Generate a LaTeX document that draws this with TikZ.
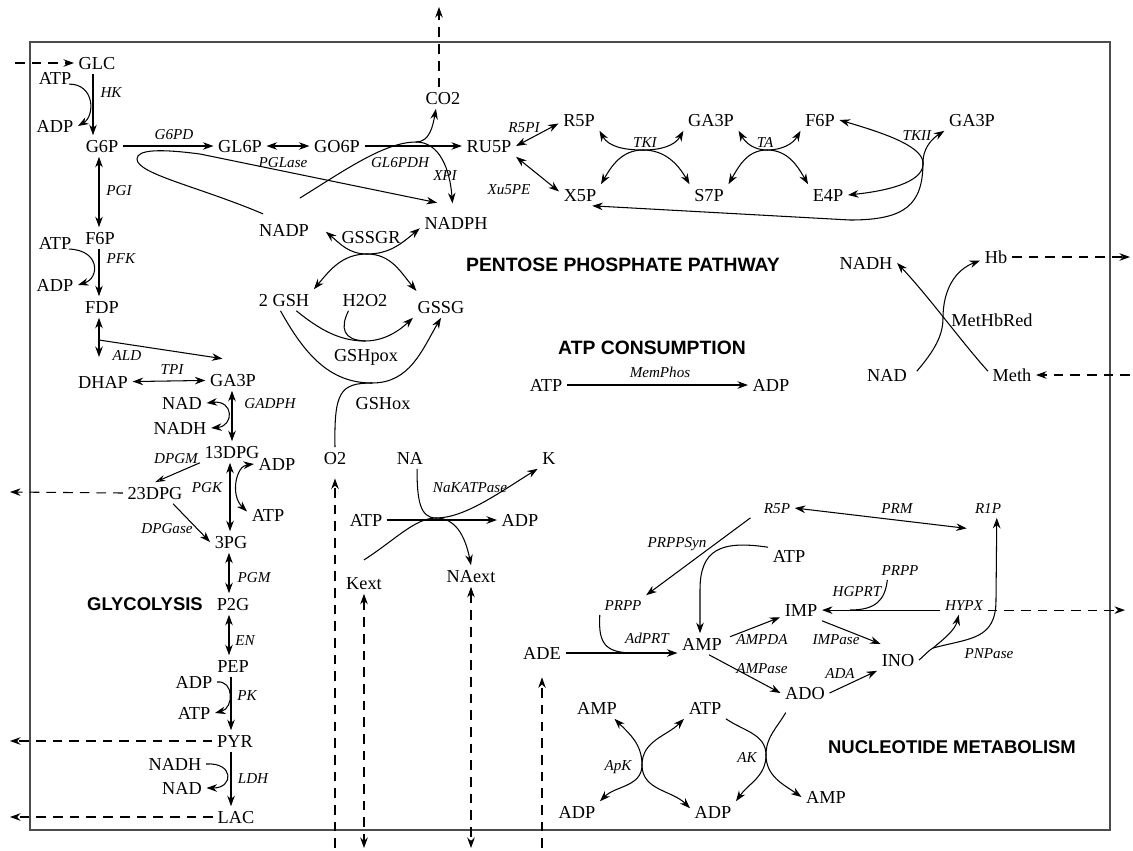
\documentclass[tikz,border=0pt]{standalone}
\usepackage{fontspec}
\setmainfont{Liberation Serif}
\setsansfont{Liberation Sans}
\usetikzlibrary{arrows.meta}
\begin{document}
\begin{tikzpicture}[x=0.02cm,y=-0.02cm,
  >={Stealth[length=6pt,width=4.3pt]},
  met/.style={inner sep=2.5pt,font=\fontsize{10.4}{12}\selectfont,text height=6.9pt,text depth=0pt},
  enz/.style={inner sep=2.5pt,font=\fontsize{8.6}{10}\selectfont\itshape,text height=5.8pt,text depth=0pt},
  heading/.style={inner sep=2pt,font=\fontsize{10.5}{12}\selectfont\sffamily\bfseries,text height=7.5pt,text depth=0pt},
  bigheading/.style={heading,font=\fontsize{11}{13}\selectfont\sffamily\bfseries},
  conn/.style={line width=0.6pt},
  fluxline/.style={line width=0.6pt,draw=black,dash pattern=on 5.5pt off 4pt},
  boxframe/.style={line width=0.7pt,draw=black!70}]
\useasboundingbox (0,0) rectangle (1133,850);
\draw[boxframe] (30,42) rectangle (1110,830);

% ---------------- glycolysis ----------------
\node[met] (glc) at (97,63) {GLC};
\node[met] (atpA) at (55,78) {ATP};
\node[enz] (hk) at (111,92) {HK};
\node[met] (adpA) at (55,126) {ADP};
\node[met] (g6p) at (102,146) {G6P};
\node[enz] (g6pd) at (174,134) {G6PD};
\node[met] (gl6p) at (240,146) {GL6P};
\node[enz] (pgi) at (119,190) {PGI};
\node[met] (f6p) at (100,238) {F6P};
\node[met] (atpB) at (55,243) {ATP};
\node[enz] (pfk) at (121,258) {PFK};
\node[met] (adpB) at (55,285) {ADP};
\node[met] (fdp) at (102,307) {FDP};
\node[enz] (ald) at (127,355) {ALD};
\node[met] (dhap) at (103,382) {DHAP};
\node[enz] (tpi) at (172,369) {TPI};
\node[met] (ga3p) at (233,380) {GA3P};
\node[met] (nadA) at (182,403) {NAD};
\node[enz] (gadph) at (270,403) {GADPH};
\node[met] (nadhA) at (180,428) {NADH};
\node[met] (dpg13) at (232,452) {13DPG};
\node[enz] (dpgm) at (176,458) {DPGM};
\node[met] (adpC) at (277,464) {ADP};
\node[enz] (pgk) at (207,487) {PGK};
\node[met] (dpg23) at (155,493) {23DPG};
\node[met] (atpC) at (268,515) {ATP};
\node[enz] (dpgase) at (167,528) {DPGase};
\node[met] (pg3) at (231,542) {3PG};
\node[enz] (pgm) at (254,577) {PGM};
\node[heading] (glyco) at (145,604) {GLYCOLYSIS};
\node[met] (p2g) at (233,604) {P2G};
\node[enz] (en) at (245,640) {EN};
\node[met] (pep) at (233,666) {PEP};
\node[met] (adpD) at (194,682) {ADP};
\node[enz] (pk) at (247,695) {PK};
\node[met] (atpD) at (194,713) {ATP};
\node[met] (pyr) at (235,741) {PYR};
\node[met] (nadhB) at (175,764) {NADH};
\node[enz] (ldh) at (253,778) {LDH};
\node[met] (nadB) at (182,788) {NAD};
\node[met] (lac) at (236,817) {LAC};

% ---------------- pentose phosphate pathway ----------------
\node[met] (go6p) at (337,146) {GO6P};
\node[enz] (pglase) at (283,162) {PGLase};
\node[met] (co2) at (443,98) {CO2};
\node[enz] (gl6pdh) at (400,162) {GL6PDH};
\node[enz] (xpi) at (445,175) {XPI};
\node[met] (ru5p) at (489,146) {RU5P};
\node[met] (nadp) at (284,230) {NADP};
\node[met] (nadph) at (456,223) {NADPH};
\node[met] (gssgr) at (371,237) {GSSGR};
\node[met] (r5p) at (579,120) {R5P};
\node[enz] (r5pi) at (524,127) {R5PI};
\node[enz] (xu5pe) at (509,189) {Xu5PE};
\node[met] (x5p) at (580,195) {X5P};
\node[met] (ga3pB) at (711,120) {GA3P};
\node[enz] (tki) at (645,142) {TKI};
\node[met] (s7p) at (709,195) {S7P};
\node[met] (f6pB) at (820,120) {F6P};
\node[enz] (ta) at (765,142) {TA};
\node[met] (e4p) at (828,195) {E4P};
\node[met] (ga3pC) at (972,120) {GA3P};
\node[enz] (tkii) at (917,135) {TKII};
\node[bigheading] (ppp) at (623,265) {PENTOSE PHOSPHATE PATHWAY};

% ---------------- glutathione ----------------
\node[met] (gsh) at (284,300) {2 GSH};
\node[met] (h2o2) at (365,300) {H2O2};
\node[met] (gssg) at (441,307) {GSSG};
\node[met] (gshpox) at (366,355) {GSHpox};
\node[met] (gshox) at (383,403) {GSHox};
\node[met] (o2) at (335,458) {O2};

% ---------------- ATP consumption, pump ----------------
\node[bigheading] (atpcons) at (652,348) {ATP CONSUMPTION};
\node[met] (atpE) at (546,385) {ATP};
\node[met] (adpE) at (771,385) {ADP};
\node[enz] (memphos) at (660,372) {MemPhos};
\node[met] (na) at (410,458) {NA};
\node[met] (k) at (549,458) {K};
\node[enz] (nakatp) at (470,487) {NaKATPase};
\node[met] (atpF) at (366,520) {ATP};
\node[met] (adpF) at (520,520) {ADP};
\node[met] (kext) at (364,583) {Kext};
\node[met] (naext) at (471,576) {NAext};

% ---------------- methemoglobin ----------------
\node[met] (nadhC) at (866,263) {NADH};
\node[met] (hb) at (996,257) {Hb};
\node[met] (methbred) at (992,320) {MetHbRed};
\node[met] (nadC) at (887,375) {NAD};
\node[met] (meth) at (1012,375) {Meth};

% ---------------- nucleotide metabolism ----------------
\node[enz] (r5pB) at (777,508) {R5P};
\node[enz] (prm) at (897,508) {PRM};
\node[enz] (r1p) at (988,508) {R1P};
\node[enz] (prppsyn) at (677,542) {PRPPSyn};
\node[met] (atpG) at (789,556) {ATP};
\node[enz] (prppA) at (623,605) {PRPP};
\node[enz] (prppB) at (900,570) {PRPP};
\node[enz] (hgprt) at (857,591) {HGPRT};
\node[met] (imp) at (801,610) {IMP};
\node[enz] (hypx) at (964,605) {HYPX};
\node[enz] (adprt) at (647,638) {AdPRT};
\node[met] (amp) at (702,644) {AMP};
\node[met] (ade) at (542,653) {ADE};
\node[enz] (ampda) at (762,639) {AMPDA};
\node[enz] (impase) at (836,639) {IMPase};
\node[met] (ino) at (898,660) {INO};
\node[enz] (ampase) at (762,668) {AMPase};
\node[met] (ado) at (805,693) {ADO};
\node[enz] (ada) at (840,673) {ADA};
\node[enz] (pnpase) at (989,653) {PNPase};
\node[met] (ampB) at (597,708) {AMP};
\node[met] (atpH) at (705,708) {ATP};
\node[enz] (apk) at (618,765) {ApK};
\node[met] (adpG) at (577,812) {ADP};
\node[met] (adpH) at (713,812) {ADP};
\node[enz] (ak) at (747,757) {AK};
\node[met] (ampC) at (826,797) {AMP};
\node[heading] (nucl) at (952,747) {NUCLEOTIDE METABOLISM};

% ---------------- exchange ends and junctions ----------------
\coordinate (glcIn) at (15,63);
\coordinate (dpgOut) at (10,492);
\coordinate (pyrOut) at (10,741);
\coordinate (lacOut) at (10,817);
\coordinate (co2Out) at (439,7);
\coordinate (o2In) at (335,848);
\coordinate (extOut) at (0,848);
\coordinate (hbOut) at (1130,257);
\coordinate (methIn) at (1130,375);
\coordinate (hypxOut) at (1125,610);
\coordinate (aldJ) at (99,340);
\coordinate (aldEnd) at (99,357);
\coordinate (gl6pdhJ) at (416,142);
\coordinate (tkiC) at (643,150);
\coordinate (taC) at (767,150);
\coordinate (tkiiJ) at (923,162);
\coordinate (gssgrC) at (367,254);
\coordinate (gpxJ) at (365,341);
\coordinate (goxJ) at (372,383);
\coordinate (nakC) at (436,518);
\coordinate (mhbC) at (943,318);
\coordinate (hgprtJ) at (850,610);
\coordinate (adprtJ) at (635,653);
\coordinate (pnpJ) at (933,648);
\coordinate (apkC) at (642,765);
\coordinate (akC) at (766,755);

% ---------------- glycolysis connectors ----------------
\draw[fluxline,->] (glcIn) -- (glc);
\draw[conn,->] (93,0 |- glc.south) -- (93,0 |- g6p.north);
\draw[conn,->] ([xshift=-4pt]atpA.base east) .. controls (95,84) and (95,116) .. (adpA.east);
\draw[conn,->] (g6p) -- (gl6p);
\draw[conn,<->] (99,0 |- g6p.south) -- (99,0 |- f6p.north);
\draw[conn,->] (99,0 |- f6p.south) -- (99,0 |- fdp.north);
\draw[conn,->] ([xshift=-4pt]atpB.base east) .. controls (100,250) and (100,278) .. (adpB.east);
\draw[conn,<->] (99,0 |- fdp.south) -- (aldEnd);
\draw[conn,->] (aldJ) -- ([xshift=-6pt,yshift=6pt]ga3p.north);
\draw[conn,<->] (dhap) -- (ga3p);
\draw[conn,<->] (232,0 |- ga3p.south) -- (232,0 |- dpg13.north);
\draw[conn,<->] (nadA.east) .. controls (234,400) and (234,426) .. (nadhA.east);
\draw[conn,-{Stealth[open,length=6pt,width=3.5pt]}] (dpg13.south west) -- (dpg23.north);
\draw[fluxline,->] (dpg23.west) -- (dpgOut);
\draw[conn,<->] (230,0 |- dpg13.south) -- (230,0 |- pg3.north);
\draw[conn,<->] (adpC.west) .. controls (236,466) and (230,495) .. ([yshift=2pt]atpC.west);
\draw[conn,->] ([xshift=-8pt]dpg23.south east) -- (pg3.west);
\draw[conn,<->] (229,0 |- pg3.south) -- (229,0 |- p2g.north);
\draw[conn,<->] (229,0 |- p2g.south) -- (229,0 |- pep.north);
\draw[conn,->] (231,0 |- pep.south) -- (231,0 |- pyr.north);
\draw[conn,->] (adpD.east) .. controls (234,680) and (234,708) .. (atpD.east);
\draw[fluxline,->] (pyr.west) -- (pyrOut);
\draw[conn,->] (231,0 |- pyr.south) -- (231,0 |- lac.north);
\draw[conn,->] (nadhB.east) .. controls (234,762) and (234,788) .. (nadB.east);
\draw[fluxline,->] (lac.west) -- (lacOut);

% ---------------- pentose phosphate connectors ----------------
\draw[conn,<->] (gl6p) -- (go6p);
\draw[conn,->] (go6p) -- (ru5p);
\draw[conn,->] ([xshift=5pt,yshift=3pt]nadp.north west) .. controls (200,187) and (137,174) .. (137,159)
   .. controls (137,149) and (162,149) .. (200,154) -- ([xshift=-10.8pt,yshift=5.4pt]nadph.north);
\draw[conn] ([xshift=9pt,yshift=12pt]nadp.north) .. controls (345,170) and (385,142) .. (gl6pdhJ);
\draw[conn,->] (gl6pdhJ) .. controls (430,142) and (433,125) .. ([xshift=-4pt]co2.south);
\draw[conn,->] (gl6pdhJ) .. controls (440,142) and (450,170) .. ([xshift=-2pt,yshift=5pt]nadph.north);
\draw[fluxline,->] (co2Out |- co2.north) -- (co2Out);
\draw[conn,<->] (ru5p.east) -- ([yshift=-2pt]r5p.west);
\draw[conn,<->] (ru5p.south east) -- ([yshift=2pt]x5p.west);
\draw[conn,<->] (r5p.south east) to[out=-60,in=180] (tkiC) to[out=0,in=-120] (ga3pB.south west);
\draw[conn,<->] (x5p.north east) to[out=60,in=180] (tkiC) to[out=0,in=120] (s7p.north west);
\draw[conn,<->] (ga3pB.south east) to[out=-60,in=180] (taC) to[out=0,in=-120] (f6pB.south west);
\draw[conn,<->] (s7p.north east) to[out=60,in=180] (taC) to[out=0,in=120] (e4p.north west);
\draw[conn,<->] (f6pB.east) .. controls (880,132) and (921,145) .. (tkiiJ)
   .. controls (925,180) and (895,190) .. (e4p.east);
\draw[conn,<->] (ga3pC.south west) .. controls (930,140) and (923,150) .. (tkiiJ)
   .. controls (923,205) and (905,220) .. (850,220) -- ([xshift=-5pt]x5p.south east);

% ---------------- glutathione connectors ----------------
\draw[conn,<->] ([xshift=7pt,yshift=-1pt]nadp.east) to[out=-40,in=180] (gssgrC) to[out=0,in=-140] ([yshift=-3pt]nadph.west);
\draw[conn,<->] (gsh.north east) to[out=50,in=180] (gssgrC) to[out=0,in=130] ([xshift=2pt,yshift=3pt]gssg.north west);
\draw[conn,->] ([xshift=-10pt]gsh.south east) .. controls (320,330) and (340,341) .. (gpxJ)
   .. controls (385,341) and (400,330) .. (gssg.south west);
\draw[conn] ([xshift=6pt]h2o2.south west) .. controls (340,328) and (343,340) .. (gpxJ);
\draw[conn] ([xshift=-2pt]gsh.south) .. controls (305,355) and (330,383) .. (goxJ);
\draw[conn,->] (o2.north) .. controls (334,392) and (340,383) .. (goxJ)
   .. controls (410,383) and (422,350) .. (gssg.south);
\draw[fluxline,->] (o2In) -- ([yshift=-5.5pt]o2.south);

% ---------------- ATP consumption and pump connectors ----------------
\draw[conn,->] (atpE) -- (adpE);
\draw[conn,->] (atpF) -- (adpF);
\draw[conn,->] ([xshift=4pt]na.south) .. controls (417,500) and (420,518) .. (nakC)
   .. controls (465,518) and (500,492) .. (k.south west);
\draw[conn,->] ([yshift=7pt]kext.north) .. controls (395,540) and (415,518) .. (nakC)
   .. controls (455,518) and (465,535) .. (naext.north);
\draw[fluxline,<->] (kext.south) -- (kext.south |- extOut);
\draw[fluxline,<->] (naext.south) -- (naext.south |- extOut);

% ---------------- methemoglobin connectors ----------------
\draw[conn,->] ([xshift=3pt,yshift=-4pt]nadC.north east) .. controls (935,350) and (943,335) .. (mhbC)
   .. controls (943,290) and (955,270) .. ([yshift=-2pt]hb.west);
\draw[conn,->] ([yshift=-4pt]meth.north west) .. controls (960,340) and (930,298) .. (nadhC.east);
\draw[fluxline,->] (hb.east) -- (hbOut);
\draw[fluxline,->] (methIn) -- (meth.east);

% ---------------- nucleotide connectors ----------------
\draw[conn,<->] (r5pB.east) -- ([xshift=-2pt,yshift=-6pt]r1p.south west);
\draw[conn,->] ([xshift=-5pt]r5pB.south west) -- (prppA.north east);
\draw[conn,->] ([yshift=5pt]atpG.west) .. controls (720,540) and (700,550) .. (700,590) -- (amp.north -| 700,590);
\draw[conn,->] (hypx.base west) -- (hypx.base west -| imp.east);
\draw[conn] ([xshift=6pt]prppB.south west) .. controls (885,600) and (876,610) .. (hgprtJ);
\draw[fluxline,->] (hypx.base east) -- (hypx.base east -| hypxOut);
\draw[conn,->] (ade.east) -- (ade.east -| amp.west);
\draw[conn] (prppA.south west) .. controls (598,645) and (606,653) .. (adprtJ);
\draw[fluxline,->] (ade.south |- extOut) -- ([yshift=-7.7pt]ade.south);
\draw[conn,->] ([xshift=2pt,yshift=-2pt]amp.north east) -- ([yshift=2pt]imp.south west);
\draw[conn,->] (imp.south east) -- ([xshift=2pt,yshift=3pt]ino.north west);
\draw[conn,->] ([xshift=4pt]amp.south) -- (ado.west);
\draw[conn,->] (ado.east) -- (ino.south west);
\draw[conn] (ino.east) .. controls (925,655) and (929,650) .. (pnpJ);
\draw[conn,->] (pnpJ) .. controls (945,638) and (955,630) .. ([xshift=-3pt]hypx.south);
\draw[conn,->] (pnpJ) .. controls (970,638) and (996,640) .. (996,600) -- ([xshift=5pt]r1p.south);
\draw[conn,<->] ([xshift=-4pt]ampB.south east) to[out=-45,in=90] (apkC) to[out=-90,in=45] (adpG.north east);
\draw[conn,<->] (atpH.south west) to[out=-135,in=90] (apkC) to[out=-90,in=135] ([yshift=-4pt]adpH.north west);
\draw[conn,->] (atpH.south east) to[out=-35,in=90] (akC) to[out=-90,in=55] (adpH.north east);
\draw[conn,->] ([xshift=3pt,yshift=-5pt]ado.south west) to[out=-120,in=90] (akC) to[out=-90,in=145] (ampC.west);
\end{tikzpicture}
\end{document}
